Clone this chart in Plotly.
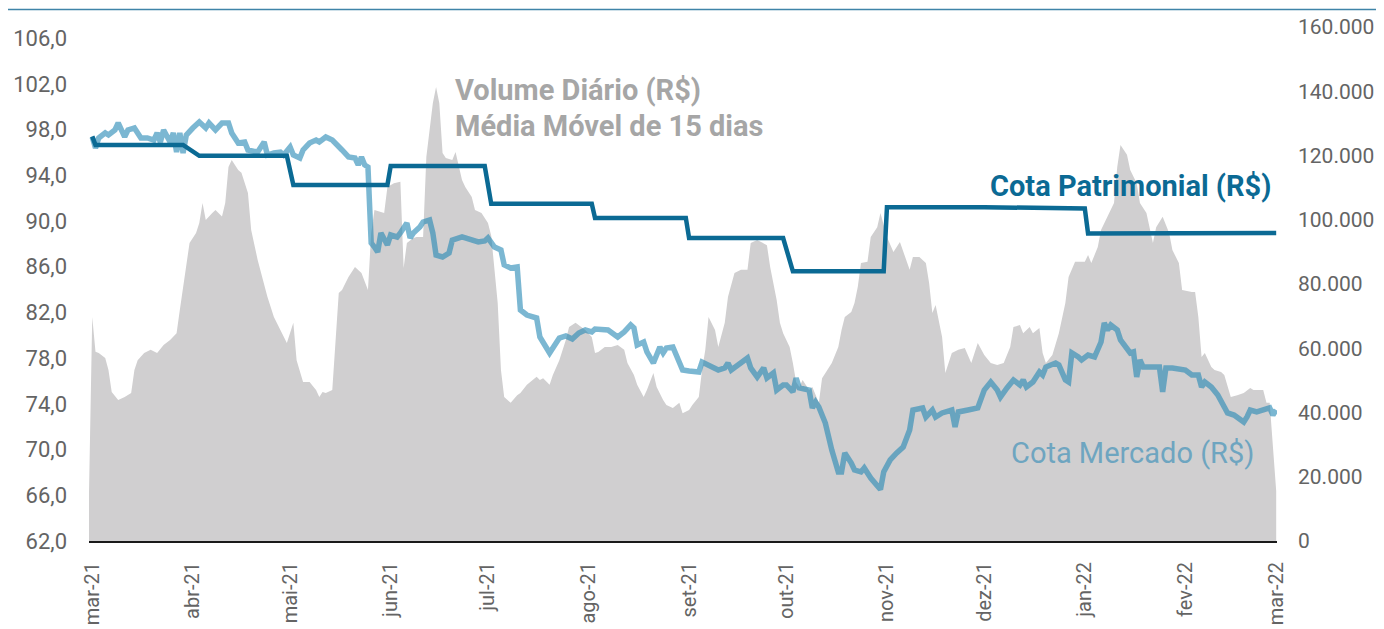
import plotly.graph_objects as go

# ---------------- DATA ----------------
vol_dates = ["2021-02-28","2021-03-01","2021-03-02","2021-03-03","2021-03-05","2021-03-06","2021-03-07","2021-03-09","2021-03-11","2021-03-13","2021-03-14","2021-03-15","2021-03-17","2021-03-19","2021-03-21","2021-03-23","2021-03-25","2021-03-27","2021-03-28","2021-03-30","2021-03-31",
"2021-04-02","2021-04-03","2021-04-04","2021-04-05","2021-04-07","2021-04-08","2021-04-10","2021-04-11","2021-04-12","2021-04-13","2021-04-15","2021-04-16","2021-04-18","2021-04-19","2021-04-21","2021-04-23","2021-04-24","2021-04-26","2021-04-28","2021-04-30",
"2021-05-02","2021-05-03","2021-05-05","2021-05-07","2021-05-09","2021-05-10","2021-05-11","2021-05-12","2021-05-14","2021-05-16","2021-05-17","2021-05-19","2021-05-21","2021-05-23","2021-05-25","2021-05-26","2021-05-27","2021-05-30","2021-05-31",
"2021-06-02","2021-06-04","2021-06-05","2021-06-06","2021-06-08","2021-06-09","2021-06-11","2021-06-12","2021-06-14","2021-06-15","2021-06-16","2021-06-17","2021-06-18","2021-06-20","2021-06-21","2021-06-23","2021-06-24","2021-06-26","2021-06-27","2021-06-29",
"2021-07-01","2021-07-02","2021-07-04","2021-07-05","2021-07-06","2021-07-08","2021-07-10","2021-07-11","2021-07-13","2021-07-16","2021-07-17","2021-07-18","2021-07-20","2021-07-21","2021-07-23","2021-07-25","2021-07-26","2021-07-28","2021-07-31",
"2021-08-02","2021-08-03","2021-08-04","2021-08-06","2021-08-08","2021-08-10","2021-08-12","2021-08-13","2021-08-15","2021-08-16","2021-08-18","2021-08-19","2021-08-21","2021-08-22","2021-08-24","2021-08-25","2021-08-27","2021-08-29","2021-08-30",
"2021-09-01","2021-09-02","2021-09-04","2021-09-05","2021-09-06","2021-09-07","2021-09-09","2021-09-10","2021-09-12","2021-09-13","2021-09-15","2021-09-17","2021-09-19","2021-09-20","2021-09-22","2021-09-25","2021-09-26","2021-09-28","2021-09-29","2021-09-30",
"2021-10-02","2021-10-03","2021-10-04","2021-10-05","2021-10-06","2021-10-08","2021-10-09","2021-10-11","2021-10-12","2021-10-15","2021-10-17","2021-10-18","2021-10-19","2021-10-21","2021-10-22","2021-10-23","2021-10-24","2021-10-26","2021-10-27","2021-10-29","2021-10-30",
"2021-11-01","2021-11-03","2021-11-05","2021-11-08","2021-11-09","2021-11-11","2021-11-13","2021-11-14","2021-11-15","2021-11-16","2021-11-18","2021-11-19","2021-11-21","2021-11-23","2021-11-25","2021-11-27","2021-11-28","2021-11-29",
"2021-12-01","2021-12-03","2021-12-05","2021-12-07","2021-12-09","2021-12-10","2021-12-12","2021-12-13","2021-12-15","2021-12-16","2021-12-18","2021-12-19","2021-12-20","2021-12-22","2021-12-24","2021-12-26","2021-12-27","2021-12-29",
"2022-01-01","2022-01-02","2022-01-03","2022-01-05","2022-01-06","2022-01-08","2022-01-10","2022-01-11","2022-01-12","2022-01-14","2022-01-15","2022-01-17","2022-01-18","2022-01-20","2022-01-22","2022-01-23","2022-01-25","2022-01-27","2022-01-28","2022-01-30","2022-01-31",
"2022-02-03","2022-02-04","2022-02-05","2022-02-06","2022-02-07","2022-02-09","2022-02-10","2022-02-12","2022-02-13","2022-02-15","2022-02-17","2022-02-19","2022-02-21","2022-02-22","2022-02-25","2022-02-26","2022-02-27","2022-03-01"]
volume = [15000,69700,58900,58500,57000,53200,46400,43900,44800,46100,53200,56300,58500,59500,58500,61000,62600,64700,71900,86500,92800,
95900,99000,105200,99900,102100,103000,101000,105200,116400,118600,115500,114600,108300,96800,87500,80300,76000,69700,65700,61600,
67900,56300,49500,49500,47000,44800,46400,46100,47000,77200,78100,82200,85300,83400,78100,95900,103000,102100,110200,
111400,111800,85000,92800,94300,94600,94600,119500,136300,141300,136300,120800,119200,118600,121100,112400,110200,107100,103000,102100,
99000,95000,74100,53200,44800,43000,45400,46100,48600,51100,50100,50700,48600,51700,56300,62600,66600,67900,65700,
63500,58500,58800,60400,60400,61000,59500,55400,51700,48600,44800,47000,52300,47900,43900,42300,41400,43000,39800,
40800,42300,44800,53200,59500,69700,65700,60400,67900,76000,83400,84400,84400,92800,93700,92100,85300,75000,67900,64700,
60400,55400,49500,47900,50100,47000,47900,43000,50700,55400,60400,65700,69700,71300,74100,79100,86500,86900,94600,97700,102100,
94600,90000,93100,84400,88400,88400,86500,80300,71000,73500,63500,52300,58500,59500,60100,55400,58500,61600,
57900,55400,54800,55400,60400,66600,67200,64700,66600,64700,66300,58500,55400,57900,64700,74100,82200,86900,
86900,89000,86500,91500,96800,100900,105200,116400,123300,120200,115500,111400,105200,102100,92800,97700,100900,95900,90600,86500,78100,
77500,77500,69700,57300,58500,54200,53200,52600,51700,44800,45400,46100,47600,47000,47000,43000,43000,15600]

mkt_dates = ["2021-03-01","2021-03-02","2021-03-03","2021-03-05","2021-03-06","2021-03-08","2021-03-09","2021-03-11","2021-03-12","2021-03-14","2021-03-16","2021-03-18","2021-03-20","2021-03-21","2021-03-22","2021-03-23","2021-03-25","2021-03-26","2021-03-27","2021-03-28","2021-03-29","2021-03-30",
"2021-04-01","2021-04-03","2021-04-05","2021-04-06","2021-04-08","2021-04-10","2021-04-12","2021-04-13","2021-04-15","2021-04-17","2021-04-18","2021-04-20","2021-04-21","2021-04-23","2021-04-24","2021-04-26","2021-04-28","2021-04-29",
"2021-05-01","2021-05-02","2021-05-04","2021-05-05","2021-05-07","2021-05-09","2021-05-10","2021-05-12","2021-05-14","2021-05-17","2021-05-19","2021-05-21","2021-05-22","2021-05-23","2021-05-24","2021-05-25","2021-05-26","2021-05-27","2021-05-28","2021-05-29","2021-05-31",
"2021-06-01","2021-06-03","2021-06-04","2021-06-06","2021-06-07","2021-06-08","2021-06-10","2021-06-11","2021-06-13","2021-06-14","2021-06-15","2021-06-17","2021-06-19","2021-06-20","2021-06-23","2021-06-24","2021-06-28","2021-06-30",
"2021-07-01","2021-07-03","2021-07-05","2021-07-06","2021-07-08","2021-07-10","2021-07-11","2021-07-13","2021-07-16","2021-07-17","2021-07-20","2021-07-22","2021-07-23","2021-07-25","2021-07-27","2021-07-29","2021-07-31",
"2021-08-02","2021-08-03","2021-08-07","2021-08-10","2021-08-12","2021-08-14","2021-08-15","2021-08-16","2021-08-18","2021-08-19","2021-08-21","2021-08-23","2021-08-24","2021-08-25","2021-08-27","2021-08-30",
"2021-09-01","2021-09-04","2021-09-05","2021-09-08","2021-09-10","2021-09-12","2021-09-13","2021-09-14","2021-09-17","2021-09-19","2021-09-20","2021-09-22","2021-09-24","2021-09-25","2021-09-27","2021-09-28","2021-09-30",
"2021-10-01","2021-10-03","2021-10-04","2021-10-05","2021-10-08","2021-10-09","2021-10-10","2021-10-11","2021-10-13","2021-10-15","2021-10-17","2021-10-18","2021-10-19","2021-10-21","2021-10-22","2021-10-24","2021-10-25","2021-10-27","2021-10-30","2021-10-31",
"2021-11-01","2021-11-02","2021-11-04","2021-11-06","2021-11-08","2021-11-09","2021-11-12","2021-11-13","2021-11-15","2021-11-16","2021-11-18","2021-11-21","2021-11-22","2021-11-23","2021-11-26","2021-11-29",
"2021-12-01","2021-12-03","2021-12-05","2021-12-06","2021-12-08","2021-12-10","2021-12-12","2021-12-13","2021-12-14","2021-12-16","2021-12-18","2021-12-19","2021-12-20","2021-12-23","2021-12-24","2021-12-26","2021-12-27","2021-12-28","2021-12-30","2021-12-31",
"2022-01-02","2022-01-04","2022-01-06","2022-01-07","2022-01-08","2022-01-09","2022-01-11","2022-01-12","2022-01-15","2022-01-16","2022-01-17","2022-01-18","2022-01-19","2022-01-20","2022-01-24","2022-01-25","2022-01-26","2022-01-28",
"2022-02-01","2022-02-03","2022-02-05","2022-02-06","2022-02-07","2022-02-09","2022-02-11","2022-02-13","2022-02-14","2022-02-16","2022-02-19","2022-02-20","2022-02-21","2022-02-23","2022-02-25","2022-02-27","2022-02-28","2022-03-01"]
cota_mercado = [97.35,96.38,97.26,97.70,97.52,97.96,98.57,97.35,97.96,98.13,97.26,97.26,97.08,97.70,96.91,97.96,96.91,97.70,96.03,97.70,95.95,97.52,
98.13,98.66,98.13,98.57,97.96,98.57,98.57,97.70,96.82,96.91,96.21,96.03,96.03,96.91,95.77,95.95,96.03,95.77,
96.47,95.77,95.51,96.21,96.82,97.08,96.91,97.35,97.08,96.21,95.60,95.51,94.90,95.60,94.90,94.72,88.07,87.72,87.28,88.95,87.90,
88.77,88.60,88.95,89.82,88.51,88.95,89.47,89.91,90.08,88.95,87.02,86.85,87.20,88.33,88.60,88.51,88.16,88.25,
88.51,87.72,87.46,86.15,85.88,85.97,82.21,81.77,81.51,79.85,78.45,79.32,79.76,79.94,79.67,80.20,80.46,
80.29,80.55,80.46,79.85,80.29,80.90,80.64,79.15,79.41,78.54,77.57,78.97,78.45,78.89,78.97,76.96,
76.87,76.79,77.66,77.22,76.96,77.14,77.57,76.96,77.57,78.01,77.14,76.35,77.14,76.26,76.70,75.21,75.65,
75.65,75.04,76.26,75.39,75.21,73.64,74.16,73.72,72.32,69.96,68.04,68.04,69.70,68.82,68.21,68.04,68.39,67.51,66.50,68.04,
68.60,69.09,69.70,70.22,71.71,73.46,73.64,72.85,73.46,72.85,73.20,73.46,71.97,73.29,73.46,73.64,
75.21,75.91,75.21,74.60,75.39,76.09,75.65,76.09,75.47,75.91,76.79,76.52,77.22,77.57,77.40,76.09,75.91,78.45,78.10,77.84,
78.27,78.10,79.41,81.07,80.46,80.90,80.46,79.59,78.45,78.54,76.35,77.84,77.22,77.22,77.22,75.04,77.14,77.14,
76.96,76.52,76.52,75.47,75.91,75.47,74.77,73.72,73.20,73.02,72.41,72.85,73.46,73.29,73.46,73.64,73.02,73.46]

pat_dates = ["2021-03-01","2021-03-02","2021-03-29","2021-04-03","2021-04-30","2021-05-02","2021-05-31","2021-06-01","2021-06-30","2021-07-02","2021-08-02","2021-08-03","2021-08-31","2021-09-01","2021-09-30","2021-10-03","2021-10-31","2021-11-01","2021-12-01","2022-01-01","2022-01-02","2022-01-31","2022-03-01"]
cota_patrimonial = [97.40,96.65,96.65,95.70,95.70,93.15,93.15,94.80,94.80,91.50,91.50,90.26,90.26,88.50,88.50,85.60,85.60,91.20,91.20,91.10,88.90,88.95,88.95]

month_ticks = ["2021-03-01","2021-04-01","2021-05-01","2021-06-01","2021-07-01","2021-08-01","2021-09-01","2021-10-01","2021-11-01","2021-12-01","2022-01-01","2022-02-01","2022-03-01"]
month_labels = ["mar-21","abr-21","mai-21","jun-21","jul-21","ago-21","set-21","out-21","nov-21","dez-21","jan-22","fev-22","mar-22"]

# ---------------- FIGURE ----------------
# page body has an 8px margin, so the figure is offset by (8, 8)
OFF = 8
TICK_FONT = dict(family="Roboto", size=22, color="#646464")

fig = go.Figure()
fig.add_trace(go.Scatter(x=vol_dates, y=volume, mode="lines", fill="tozeroy",
                         line=dict(width=0, color="#d0cfd0"), fillcolor="#d0cfd0",
                         yaxis="y", hoverinfo="skip"))
fig.add_trace(go.Scatter(x=mkt_dates, y=cota_mercado, mode="lines",
                         line=dict(width=5.5, color="rgba(35,135,180,0.6)"), yaxis="y2"))
fig.add_trace(go.Scatter(x=pat_dates, y=cota_patrimonial, mode="lines",
                         line=dict(width=4.5, color="#0b6a94"), yaxis="y2"))

fig.update_layout(
    width=1384, height=629,
    margin=dict(l=89 - OFF, r=1384 + OFF - 1277, t=27 - OFF, b=629 + OFF - 541),
    paper_bgcolor="white", plot_bgcolor="white",
    showlegend=False,
    separators=",.",
    xaxis=dict(type="date", range=["2021-02-28", "2022-03-01 06:00"],
               tickvals=month_ticks, ticktext=month_labels, tickangle=-90,
               tickfont=dict(family="Roboto", size=20, color="#646464"),
               showgrid=False, zeroline=False, showline=True, linecolor="#1a1a1a", linewidth=2,
               ticks="", ticklabelstandoff=11, automargin=False),
    yaxis=dict(side="right", range=[0, 160000], dtick=20000, tick0=0, tickformat=",d",
               showgrid=False, zeroline=False, showline=False, ticks="",
               tickfont=dict(family="Roboto", size=21, color="#646464"),
               ticklabelstandoff=20, automargin=False),
    yaxis2=dict(side="left", overlaying="y", range=[62, 106.97], dtick=4, tick0=62, tickformat=".1f",
                showgrid=False, zeroline=False, showline=False, ticks="",
                tickfont=TICK_FONT, ticklabelstandoff=21, automargin=False),
)

def px(xp):
    return (xp - 89) / 1188.0

def py(yp):
    return (541 - yp) / 514.0

ann_common = dict(xref="paper", yref="paper", showarrow=False, yanchor="middle")
fig.add_annotation(text="<b>Volume Diário (R$)</b>", x=px(453), y=py(90), xanchor="left",
                   font=dict(family="Roboto", size=29, color="#a6a6a6"), **ann_common)
fig.add_annotation(text="<b>Média Móvel de 15 dias</b>", x=px(453), y=py(126), xanchor="left",
                   font=dict(family="Roboto", size=29, color="#a6a6a6"), **ann_common)
fig.add_annotation(text="<b>Cota Patrimonial (R$)</b>", x=px(1273), y=py(186), xanchor="right",
                   font=dict(family="Roboto", size=29, color="#0b6a94"), **ann_common)
fig.add_annotation(text="Cota Mercado (R$)", x=px(1256), y=py(453), xanchor="right",
                   font=dict(family="Roboto", size=29, color="#6ea5c0"), **ann_common)

# decorative rule across the top of the page (as high as the figure allows)
fig.add_shape(type="line", xref="paper", yref="paper", x0=px(0), x1=px(1400), y0=py(9.5), y1=py(9.5),
              line=dict(color="#3f84a8", width=1.5))

fig.write_html("out.html")
